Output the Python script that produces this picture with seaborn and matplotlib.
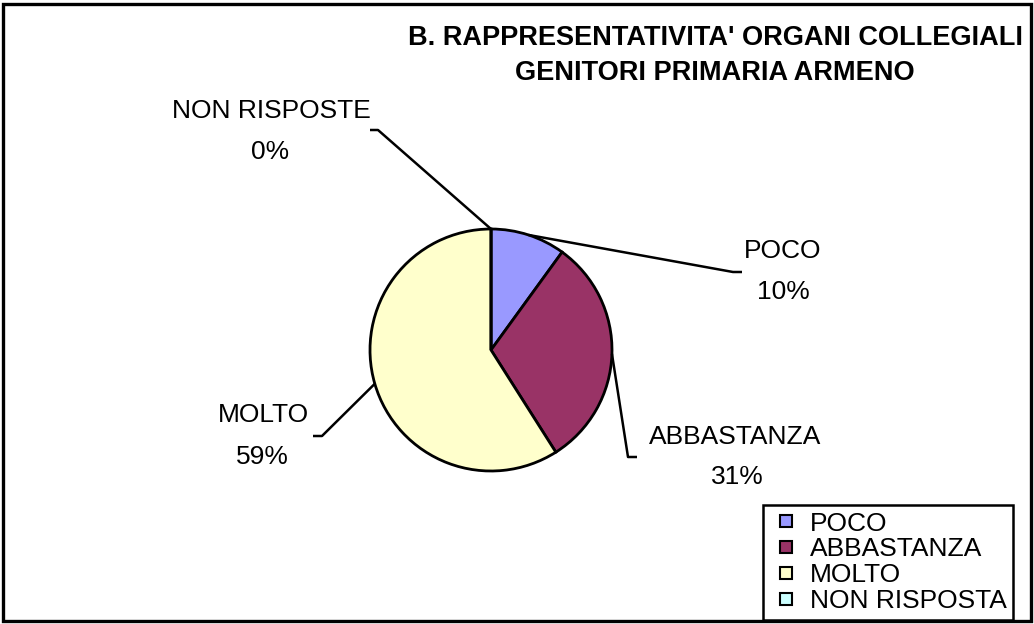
import matplotlib
matplotlib.use("Agg")
import matplotlib.pyplot as plt
from matplotlib.patches import Rectangle
from matplotlib.lines import Line2D
import numpy as np
import seaborn as sns

# Survey answers (share of respondents, %)
categories = ["POCO", "ABBASTANZA", "MOLTO", "NON RISPOSTA"]
slice_labels = ["POCO", "ABBASTANZA", "MOLTO", "NON RISPOSTE"]
values = [10, 31, 59, 0]
colors = ["#9999FF", "#993366", "#FFFFCC", "#CCFFFF"]
title_lines = ["B. RAPPRESENTATIVITA' ORGANI COLLEGIALI",
               "GENITORI PRIMARIA ARMENO"]

sns.set_theme(style="white")
plt.rcParams["font.family"] = ["Liberation Sans", "DejaVu Sans"]
plt.rcParams["text.color"] = "black"

W, H = 1034, 624
fig = plt.figure(figsize=(W / 100, H / 100), dpi=100)
ax = fig.add_axes([0, 0, 1, 1])


def px(x, y):
    """Convert top-left pixel coordinates to the y-up data space."""
    return x, H - y


center = px(491, 350)
radius = 121
palette = sns.color_palette(colors)

wedges, _ = ax.pie(values, colors=palette, startangle=90, counterclock=False,
                   center=center, radius=radius,
                   wedgeprops=dict(edgecolor="black", linewidth=2.0))
ax.set_xlim(0, W)
ax.set_ylim(0, H)
ax.set_aspect("equal")
ax.axis("off")

# label placement: elbow, line end, name center, percentage center
layout = {
    "POCO": ((733, 272), (742, 272), (783, 251), (783, 292)),
    "ABBASTANZA": ((628, 457), (637, 457), (735, 437), (737, 477)),
    "MOLTO": ((322, 436), (313, 436), (263, 415), (262, 457)),
    "NON RISPOSTE": ((378, 130), (370, 130), (271, 111), (270, 152)),
}

label_size = 19
for w, name, v in zip(wedges, slice_labels, values):
    mid = np.deg2rad((w.theta1 + w.theta2) / 2)
    sx = center[0] + radius * np.cos(mid)
    sy = center[1] + radius * np.sin(mid)
    elbow, end, name_pos, pct_pos = layout[name]
    ex, ey = px(*elbow)
    fx, fy = px(*end)
    ax.plot([sx, ex, fx], [sy, ey, fy], color="black", lw=1.8,
            solid_capstyle="butt", zorder=3)
    ax.text(*px(*name_pos), name, ha="center", va="center",
            fontsize=label_size, color="black")
    ax.text(*px(*pct_pos), f"{v:.0f}%", ha="center", va="center",
            fontsize=label_size, color="black")

ax.text(*px(715, 38), title_lines[0], ha="center", va="center",
        fontsize=19.5, fontweight="bold", color="black")
ax.text(*px(715, 73), title_lines[1], ha="center", va="center",
        fontsize=19.5, fontweight="bold", color="black")

# square swatches for the legend
handles = [Line2D([], [], linestyle="", marker="s", markersize=8,
                  markerfacecolor=c, markeredgecolor="black",
                  markeredgewidth=1.5) for c in palette]
leg = ax.legend(handles, categories, loc="upper left",
                bbox_to_anchor=(763 / W, 1 - 505 / H),
                bbox_transform=fig.transFigure,
                fontsize=19, frameon=True, fancybox=False, framealpha=1,
                edgecolor="black", handlelength=1.24, handletextpad=0.29,
                labelspacing=0.07, borderpad=0.25, borderaxespad=0)
leg.get_frame().set_linewidth(1.8)
for t in leg.get_texts():
    t.set_color("black")

# outer frame of the chart area
ax.add_patch(Rectangle(px(3, 621), 1028, 617, fill=False, edgecolor="black",
                       linewidth=2.4, clip_on=False, zorder=5))

fig.savefig("out.png", dpi=100)
